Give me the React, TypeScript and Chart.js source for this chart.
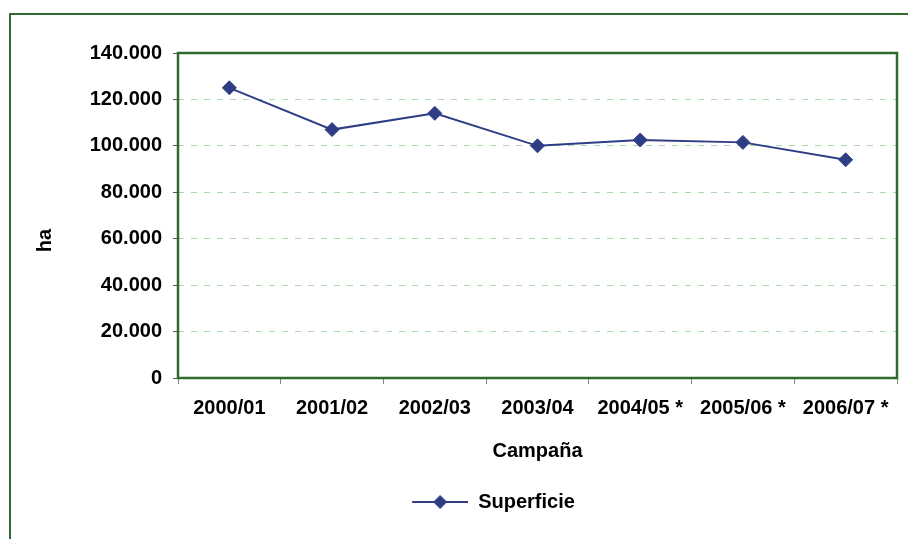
import React, { useEffect, useRef } from "react";
import { Chart, registerables } from "chart.js";

Chart.register(...registerables);

const categories = ["2000/01", "2001/02", "2002/03", "2003/04", "2004/05 *", "2005/06 *", "2006/07 *"];
const superficie = [125000, 107000, 114000, 100000, 102500, 101500, 94000];
const seriesLabel = "Superficie";
const yTitle = "ha";
const xTitle = "Campaña";
const yMin = 0;
const yMax = 140000;
const yStep = 20000;

const LINE_COLOR = "#2f3d85";
const FRAME_GREEN = "#2f6b2f";
const FONT = "'Liberation Sans', Arial, sans-serif";
const FSIZE = 20;

function fmt(v: number): string {
  return String(v).replace(/\B(?=(\d{3})+(?!\d))/g, ".");
}

function makeLegendSymbol(): HTMLCanvasElement {
  const c = document.createElement("canvas");
  const lead = 90;
  const len = 56;
  c.width = lead + len;
  c.height = 16;
  const ctx = c.getContext("2d")!;
  ctx.strokeStyle = LINE_COLOR;
  ctx.lineWidth = 2;
  ctx.beginPath();
  ctx.moveTo(lead, 8);
  ctx.lineTo(lead + len, 8);
  ctx.stroke();
  ctx.fillStyle = LINE_COLOR;
  const cx = lead + len / 2;
  ctx.beginPath();
  ctx.moveTo(cx, 1);
  ctx.lineTo(cx + 7, 8);
  ctx.lineTo(cx, 15);
  ctx.lineTo(cx - 7, 8);
  ctx.closePath();
  ctx.fill();
  return c;
}

const framePlugin = {
  id: "plotFrame",
  beforeDatasetsDraw(chart: any) {
    const { ctx, chartArea } = chart;
    ctx.save();
    ctx.strokeStyle = FRAME_GREEN;
    ctx.lineWidth = 2.5;
    ctx.strokeRect(chartArea.left, chartArea.top, chartArea.right - chartArea.left, chartArea.bottom - chartArea.top);
    ctx.restore();
  },
  afterDraw(chart: any) {
    const { ctx, chartArea } = chart;
    ctx.save();
    ctx.font = `bold ${FSIZE}px ${FONT}`;
    ctx.fillStyle = "#000";
    ctx.textAlign = "center";
    ctx.textBaseline = "middle";
    const y = chartArea.top + (chartArea.bottom - chartArea.top) * 0.577;
    ctx.translate(45, y);
    ctx.rotate(-Math.PI / 2);
    ctx.fillText(yTitle, 0, 0);
    ctx.restore();
  },
};

export default function App() {
  const ref = useRef<HTMLCanvasElement | null>(null);

  useEffect(() => {
    if (!ref.current) return;
    const symbol = makeLegendSymbol();
    const chart = new Chart(ref.current, {
      type: "line",
      data: {
        labels: categories,
        datasets: [
          {
            label: seriesLabel,
            data: superficie,
            borderColor: LINE_COLOR,
            backgroundColor: LINE_COLOR,
            borderWidth: 2,
            pointStyle: "rectRot",
            pointRadius: 7,
            pointBackgroundColor: LINE_COLOR,
            pointBorderColor: LINE_COLOR,
            pointBorderWidth: 1,
            tension: 0,
          },
        ],
      },
      options: {
        animation: false,
        responsive: true,
        maintainAspectRatio: false,
        layout: { padding: { top: 53, right: 11, bottom: 17, left: 0 } },
        plugins: {
          legend: {
            display: true,
            position: "bottom",
            labels: {
              usePointStyle: true,
              pointStyle: symbol as any,
              pointStyleWidth: symbol.width,
              padding: 10,
              color: "#000",
              font: { family: FONT, size: FSIZE, weight: "bold" },
            },
          },
          tooltip: { enabled: false },
          title: { display: false },
        },
        scales: {
          x: {
            type: "category",
            offset: true,
            grid: {
              display: true,
              offset: true,
              drawOnChartArea: false,
              drawTicks: true,
              tickLength: 6,
              tickColor: "#7a8a7a",
              color: "#7a8a7a",
            },
            border: { display: false },
            ticks: {
              color: "#000",
              padding: 12,
              maxRotation: 0,
              autoSkip: false,
              font: { family: FONT, size: FSIZE, weight: "bold" },
            },
            title: {
              display: true,
              text: xTitle,
              color: "#000",
              padding: { top: 0, bottom: 19 },
              font: { family: FONT, size: FSIZE, weight: "bold" },
            },
            afterFit(scale: any) {
              scale.height = 104;
            },
          },
          y: {
            min: yMin,
            max: yMax,
            grid: {
              display: true,
              color: "#a9d9a9",
              lineWidth: 1,
              drawTicks: true,
              tickLength: 5,
              tickColor: "#555",
            },
            border: { display: false, dash: [6, 7] },
            ticks: {
              stepSize: yStep,
              color: "#000",
              padding: 11,
              font: { family: FONT, size: FSIZE, weight: "bold" },
              callback: (v: any) => fmt(Number(v)),
            },
            afterFit(scale: any) {
              scale.width = 178;
            },
          },
        },
      },
      plugins: [framePlugin],
    });
    return () => chart.destroy();
  }, []);

  return (
    <div style={{ position: "fixed", left: 0, top: 0, width: 908, height: 539, background: "#fff", overflow: "hidden" }}>
      <div
        style={{
          position: "absolute",
          left: 9,
          top: 13,
          width: 1000,
          height: 1000,
          borderLeft: `2px solid ${FRAME_GREEN}`,
          borderTop: `2px solid ${FRAME_GREEN}`,
        }}
      />
      <div style={{ position: "absolute", left: 0, top: 0, width: 908, height: 539 }}>
        <canvas ref={ref} />
      </div>
    </div>
  );
}
